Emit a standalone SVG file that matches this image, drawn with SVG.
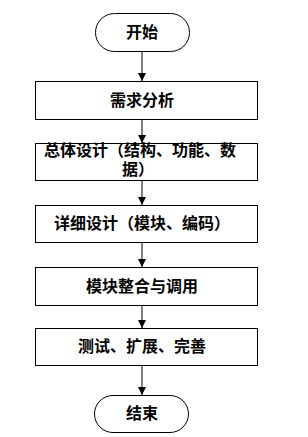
<svg xmlns="http://www.w3.org/2000/svg" width="308" height="437" viewBox="0 0 308 437">
<style>
.box{fill:#fff;stroke:#000;stroke-width:1}
.t{font-family:"Noto Sans CJK SC","Noto Sans CJK JP",sans-serif;font-size:16px;font-weight:bold;fill:#000}
.c{stroke:#000;stroke-width:1;fill:none}
</style>
<defs>
<marker id="ah" viewBox="0 0 8 8" refX="8" refY="4" markerWidth="8" markerHeight="8" markerUnits="userSpaceOnUse" orient="auto">
<path d="M0,0 L8,4 L0,8 z" fill="#000"/>
</marker>
</defs>
<rect width="308" height="437" fill="#fff"/>
<g id="connectors">
<line class="c" x1="142" y1="51" x2="142" y2="81" marker-end="url(#ah)"/>
<line class="c" x1="142" y1="119" x2="142" y2="143" marker-end="url(#ah)"/>
<line class="c" x1="142" y1="180" x2="142" y2="205" marker-end="url(#ah)"/>
<line class="c" x1="142" y1="242" x2="142" y2="267" marker-end="url(#ah)"/>
<line class="c" x1="142" y1="305" x2="142" y2="328" marker-end="url(#ah)"/>
<line class="c" x1="142" y1="365" x2="142" y2="395" marker-end="url(#ah)"/>
</g>
<g id="start">
<rect class="box" x="95.5" y="13.5" width="94" height="38" rx="19" ry="19"/>
<text class="t" x="142" y="38" text-anchor="middle">开始</text>
</g>
<g id="n1">
<rect class="box" x="35.5" y="81.5" width="222" height="38"/>
<text class="t" x="142" y="106" text-anchor="middle">需求分析</text>
</g>
<g id="n2">
<rect class="box" x="35.5" y="143.5" width="222" height="37"/>
<text class="t" x="140" y="155.5" text-anchor="middle">总体设计（结构、功能、数</text>
<text class="t" x="122" y="174.5">据）</text>
</g>
<g id="n3">
<rect class="box" x="35.5" y="205.5" width="222" height="37"/>
<text class="t" x="142" y="229" text-anchor="middle">详细设计（模块、编码）</text>
</g>
<g id="n4">
<rect class="box" x="35.5" y="267.5" width="222" height="38"/>
<text class="t" x="142" y="292" text-anchor="middle">模块整合与调用</text>
</g>
<g id="n5">
<rect class="box" x="35.5" y="328.5" width="222" height="37"/>
<text class="t" x="142" y="352" text-anchor="middle">测试、扩展、完善</text>
</g>
<g id="end">
<rect class="box" x="94.5" y="395.5" width="94" height="37" rx="18.5" ry="18.5"/>
<text class="t" x="142" y="419" text-anchor="middle">结束</text>
</g>
</svg>
